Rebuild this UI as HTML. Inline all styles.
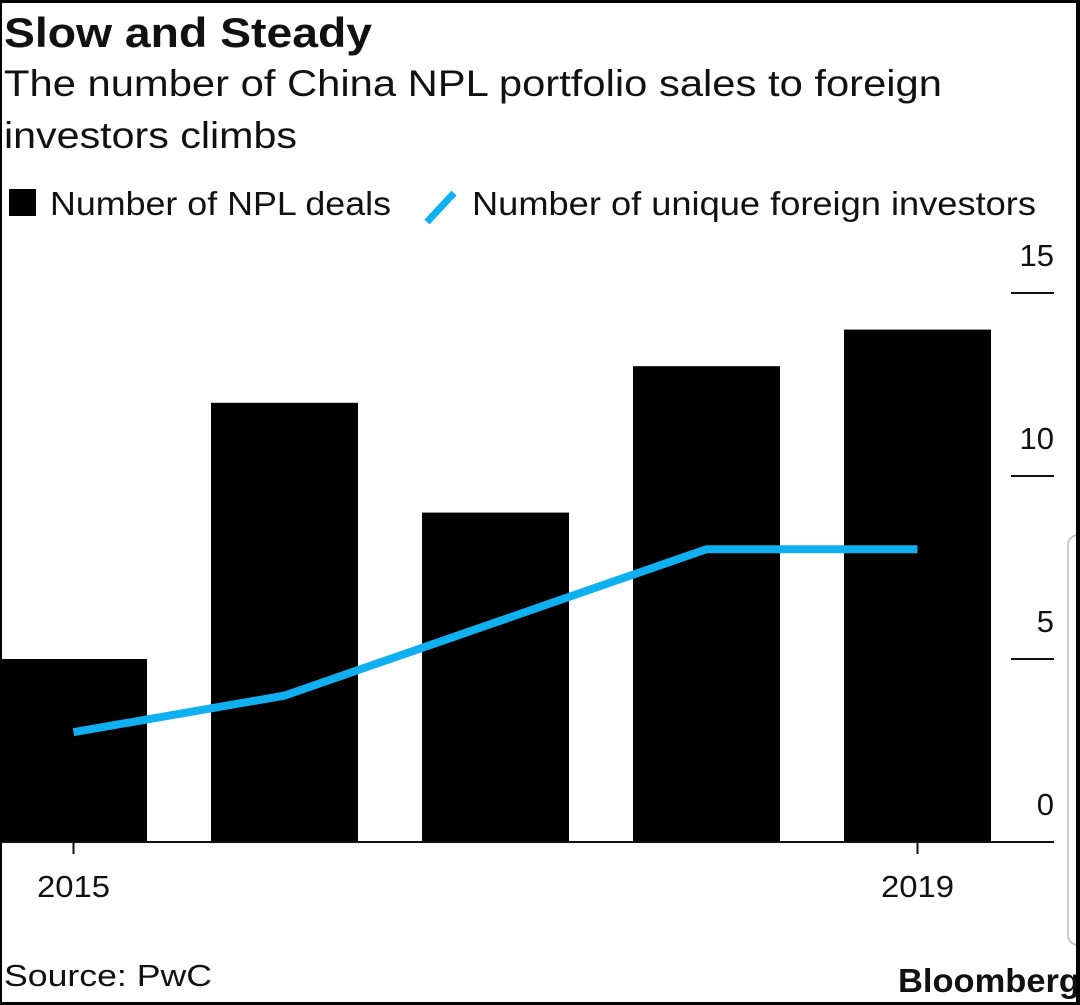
<!DOCTYPE html>
<html><head><meta charset="utf-8"><style>
html,body{margin:0;padding:0;background:#000}
#page{position:relative;width:1074px;height:999px;margin:3px 3px 3px 3px;left:0;background:#fff;overflow:hidden;font-family:"Liberation Sans",sans-serif;color:#111}
</style></head><body>
<div id="page" style="margin-left:2px">
<svg width="1074" height="999" viewBox="2 3 1074 999" xmlns="http://www.w3.org/2000/svg" style="position:absolute;left:0;top:0">
<text x="4" y="47" font-size="42" font-weight="bold" fill="#111" textLength="368" lengthAdjust="spacingAndGlyphs">Slow and Steady</text>
<text x="4" y="96" font-size="37" fill="#111" textLength="938" lengthAdjust="spacingAndGlyphs">The number of China NPL portfolio sales to foreign</text>
<text x="4" y="148" font-size="37" fill="#111" textLength="293" lengthAdjust="spacingAndGlyphs">investors climbs</text>
<g>
<rect x="9" y="189" width="27" height="27" fill="#000"/>
<text x="50" y="215" font-size="33" fill="#111" textLength="341" lengthAdjust="spacingAndGlyphs">Number of NPL deals</text>
<line x1="427" y1="222" x2="454" y2="193" stroke="#0fb0f0" stroke-width="7"/>
<text x="472" y="215" font-size="33" fill="#111" textLength="564" lengthAdjust="spacingAndGlyphs">Number of unique foreign investors</text>
</g>
<g id="plot"></g>
<text x="4" y="986" font-size="31" fill="#111" textLength="208" lengthAdjust="spacingAndGlyphs">Source: PwC</text>
<text x="898" y="992" font-size="33" font-weight="bold" fill="#111" textLength="182" lengthAdjust="spacingAndGlyphs">Bloomberg</text>
<rect x="1068" y="535" width="20" height="410" rx="10" fill="none" stroke="#bbb" stroke-width="1.5"/>
</svg>
</div>
<script>
const years = ["2015","2016","2017","2018","2019"];
const deals = [5, 12, 9, 13, 14];
const investors = [3, 4, 6, 8, 8];
const yTicks = [0, 5, 10, 15];
const xLabels = ["2015","","","","2019"];

const NS = "http://www.w3.org/2000/svg";
const g = document.getElementById('plot');
const y0 = 842, pxPerUnit = (842 - 293) / 15;
const yScale = v => y0 - v * pxPerUnit;
const xCenter = i => 73.5 + i * 211;
const barW = 147;
function mk(tag, attrs){const e=document.createElementNS(NS,tag);for(const k in attrs)e.setAttribute(k,attrs[k]);g.appendChild(e);return e;}

deals.forEach((v,i)=>{
  const r = mk('rect',{x:xCenter(i)-barW/2,y:yScale(v),width:barW,height:y0-yScale(v),fill:'#000'});
  
  
});
const pts = investors.map((v,i)=>xCenter(i)+','+yScale(v)).join(' ');
const line = mk('polyline',{points:pts,fill:'none',stroke:'#0fb0f0','stroke-width':8,'stroke-linejoin':'miter'});



yTicks.forEach(t=>{
  const y = yScale(t);
  if(t>0){
    const tl = mk('line',{x1:1011,x2:1054,y1:y,y2:y,stroke:'#111','stroke-width':2});
    
    
  }
  const tx = mk('text',{x:1054,y:y-27,'font-size':31,'text-anchor':'end',fill:'#111'});
  tx.textContent = t;
  
  
});
const axis = mk('line',{x1:0,x2:1054,y1:y0,y2:y0,stroke:'#111','stroke-width':2});


xLabels.forEach((l,i)=>{
  if(!l) return;
  const tk = mk('line',{x1:xCenter(i),x2:xCenter(i),y1:y0,y2:y0+12,stroke:'#111','stroke-width':2});
  
  
  const tx = mk('text',{x:xCenter(i),y:897,'font-size':31,'text-anchor':'middle',fill:'#111',textLength:73,lengthAdjust:'spacingAndGlyphs'});
  tx.textContent = l;
  
  
});
</script>
</body></html>
